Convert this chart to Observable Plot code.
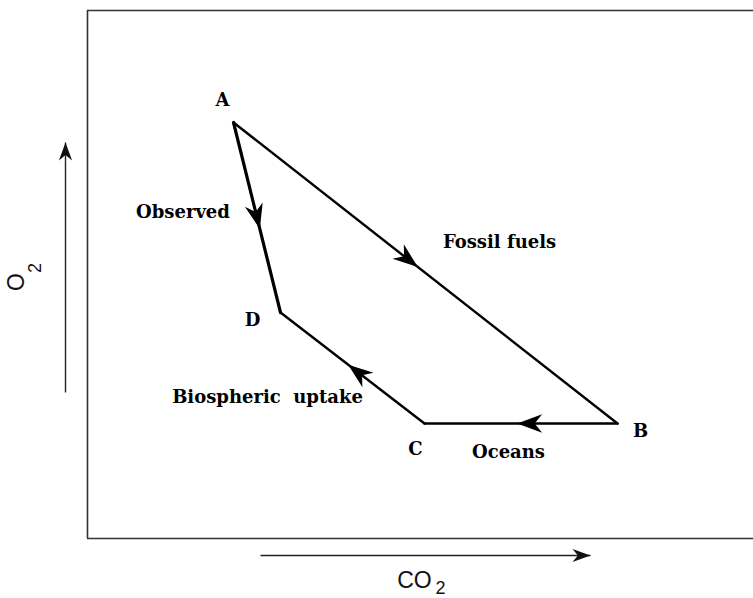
<!DOCTYPE html>
<html>
<head>
<meta charset="utf-8">
<script src="https://cdn.jsdelivr.net/npm/d3@7"></script>
<script src="https://cdn.jsdelivr.net/npm/@observablehq/plot@0.6"></script>
<style>
  html, body { margin: 0; padding: 0; background: #fff; }
</style>
</head>
<body>
<div id="chart"></div>
<script>
// Points of the diagram (CO2, O2 in arbitrary units)
const points = ["A", "B", "C", "D"];
const co2 = [146, 530, 337, 193];
const o2 = [416, 115, 115, 226];
const pointLabelCo2 = [135, 553, 328, 165];
const pointLabelO2 = [438, 107, 89, 218];

// Flows between points
const flowFrom = ["A", "A", "B", "C"];
const flowTo = ["D", "B", "C", "D"];
const flowName = ["Observed", "Fossil fuels", "Oceans", "Biospheric\u00a0 uptake"];
const flowHeadAt = [0.56, 0.48, 0.52, 0.53];
const flowLabelCo2 = [95.5, 412, 421, 180];
const flowLabelO2 = [326, 296, 86, 141];

// Axis direction arrows and labels
const axisArrowX1 = [-22, 173];
const axisArrowY1 = [146, -17];
const axisArrowX2 = [-22, 503];
const axisArrowY2 = [396, -17];
const axisName = ["O", "CO"];
const axisNameX = [-71, 327];
const axisNameY = [256.5, -42.5];
const axisNameRotate = [-90, 0];
const axisSubX = [-52, 353];
const axisSubY = [270.5, -49.5];

const pos = Object.fromEntries(points.map((p, i) => [p, [co2[i], o2[i]]]));
const flows = flowFrom.map((f, i) => {
  const a = pos[f], b = pos[flowTo[i]], t = flowHeadAt[i];
  return {
    x1: a[0], y1: a[1], x2: b[0], y2: b[1],
    hx: a[0] + (b[0] - a[0]) * t, hy: a[1] + (b[1] - a[1]) * t,
    angle: Math.atan2(b[0] - a[0], b[1] - a[1]) * 180 / Math.PI,
    w: i === 0 ? 3.2 : 2.4,
    name: flowName[i], lx: flowLabelCo2[i], ly: flowLabelO2[i]
  };
});
const pointLabels = points.map((p, i) => ({name: p, x: pointLabelCo2[i], y: pointLabelO2[i]}));
const axisArrows = axisArrowX1.map((x1, i) => ({
  x1, y1: axisArrowY1[i], x2: axisArrowX2[i], y2: axisArrowY2[i],
  angle: Math.atan2(axisArrowX2[i] - x1, axisArrowY2[i] - axisArrowY1[i]) * 180 / Math.PI
}));
const axisLabels = axisName.map((n, i) => ({
  name: n, x: axisNameX[i], y: axisNameY[i], rotate: axisNameRotate[i],
  sx: axisSubX[i], sy: axisSubY[i]
}));

// Barbed arrowhead symbol, tip at origin, pointing up
const arrowHead = {
  draw(ctx, size) {
    const k = Math.sqrt(size / Math.PI) / 3;
    ctx.moveTo(0, 0);
    ctx.lineTo(5.5 * k, 15 * k);
    ctx.lineTo(0, 10.5 * k);
    ctx.lineTo(-5.5 * k, 15 * k);
    ctx.closePath();
  }
};

const serif = "DejaVu Serif";
const sans = "Liberation Sans, Arial, sans-serif";

const chart = Plot.plot({
  width: 753,
  height: 598,
  marginLeft: 87,
  marginRight: 0,
  marginTop: 10,
  marginBottom: 60,
  x: {domain: [0, 666], axis: null},
  y: {domain: [0, 528], axis: null},
  marks: [
    Plot.ruleX([0], {stroke: "#333", strokeWidth: 1.6}),
    Plot.ruleY([0, 528], {stroke: "#333", strokeWidth: 1.6}),
    Plot.link(flows, {x1: "x1", y1: "y1", x2: "x2", y2: "y2", stroke: "black", strokeWidth: "w", strokeLinecap: "round", strokeLinejoin: "round"}),
    Plot.dot(flows, {x: "hx", y: "hy", rotate: "angle", symbol: arrowHead, r: 5, fill: "black", stroke: null}),
    Plot.text(pointLabels, {x: "x", y: "y", text: "name", fontFamily: serif, fontWeight: "bold", fontSize: 18, fill: "black"}),
    Plot.text(flows, {x: "lx", y: "ly", text: "name", fontFamily: serif, fontWeight: "bold", fontSize: 18, fill: "black"}),
    Plot.link(axisArrows, {x1: "x1", y1: "y1", x2: "x2", y2: "y2", stroke: "#222", strokeWidth: 1.4}),
    Plot.dot(axisArrows, {x: "x2", y: "y2", rotate: "angle", symbol: arrowHead, r: 3.6, fill: "#111", stroke: null}),
    Plot.text(axisLabels, {x: "x", y: "y", text: "name", rotate: "rotate", fontFamily: sans, fontSize: 23, fill: "#111"}),
    Plot.text(axisLabels, {x: "sx", y: "sy", text: () => "2", rotate: "rotate", fontFamily: sans, fontSize: 18, fill: "#111"})
  ]
});
document.getElementById("chart").appendChild(chart);
</script>
</body>
</html>
